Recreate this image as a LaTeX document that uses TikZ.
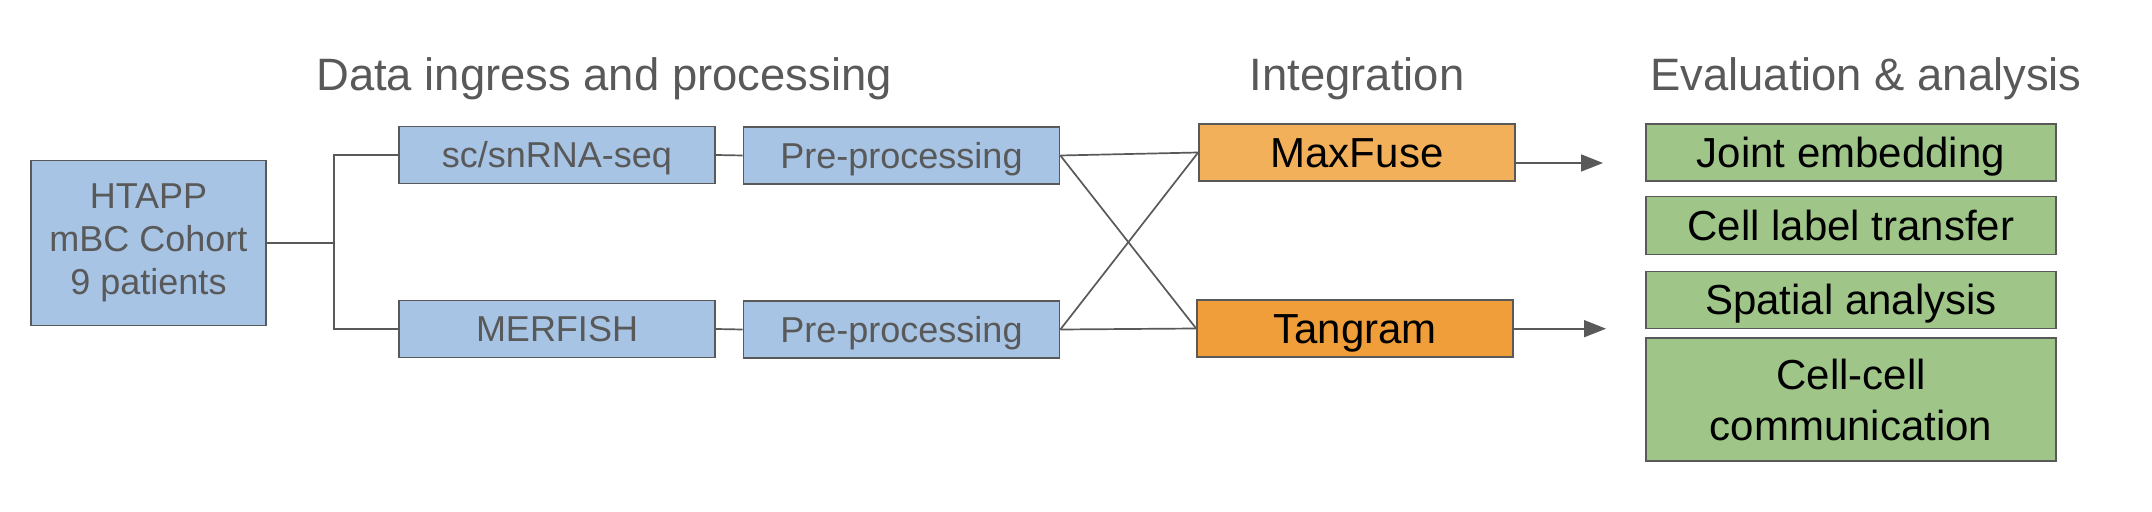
\documentclass[tikz,border=0pt]{standalone}
\usepackage{fontspec}
\setmainfont{Liberation Sans}
\usetikzlibrary{arrows.meta,calc}
\definecolor{ingressblue}{HTML}{A7C4E5}
\definecolor{fuseorange}{HTML}{F2B05B}
\definecolor{tangramorange}{HTML}{F09E3A}
\definecolor{evalgreen}{HTML}{9FC589}
\definecolor{linegray}{HTML}{595959}
\tikzset{>={Triangle[length=11pt,width=8.5pt]}}

\begin{document}
\begin{tikzpicture}[x=0.5pt,y=-0.5pt,
    stagebox/.style={draw=linegray,line width=0.85pt,inner sep=0pt,align=center,
      minimum width=158pt,minimum height=28.5pt},
    ingress/.style={stagebox,fill=ingressblue,text=linegray,font=\fontsize{18}{21.6}\selectfont},
    integ/.style={stagebox,fill=#1,font=\fontsize{21}{25}\selectfont},
    evalbox/.style={stagebox,fill=evalgreen,minimum width=205pt,font=\fontsize{21}{25.5}\selectfont},
    oneline/.style={text height=#1,text depth=0pt},
    heading/.style={anchor=base,text=linegray,font=\fontsize{22.7}{27}\selectfont},
    link/.style={draw=linegray,line width=0.85pt}]
  \useasboundingbox (0,0) rectangle (2152,512);

  % column headings
  \node[heading] (hingress) at (604,91) {Data ingress and processing};
  \node[heading] (hinteg) at (1357,91) {Integration};
  \node[heading] (heval) at (1866,91) {Evaluation \& analysis};

  % data ingress and processing
  \node[ingress,minimum width=117.5pt,minimum height=82.5pt] (htapp) at (148.5,243) {HTAPP\\mBC Cohort\\9 patients};
  \node[ingress,oneline=12.9pt] (scseq) at (557,155) {sc/snRNA-seq};
  \node[ingress,oneline=12.9pt] (merfish) at (557,329) {MERFISH};
  \node[ingress,oneline=12.9pt] (prep1) at (901.5,155.5) {Pre-processing};
  \node[ingress,oneline=12.9pt] (prep2) at (901.5,329.5) {Pre-processing};

  % integration
  \node[integ=fuseorange,oneline=15pt] (maxfuse) at (1357,152.5) {MaxFuse};
  \node[integ=tangramorange,oneline=15pt] (tangram) at (1355,328.5) {Tangram};

  % evaluation & analysis
  \node[evalbox,oneline=15pt] (joint) at (1851,152.5) {Joint embedding};
  \node[evalbox,oneline=15pt,minimum height=29pt] (labeltr) at (1851,225.5) {Cell label transfer};
  \node[evalbox,oneline=15pt] (spatial) at (1851,300) {Spatial analysis};
  \node[evalbox,minimum height=61.5pt] (cellcell) at (1851,399.5) {Cell-cell\\communication};

  \draw[link] (htapp.east) -- ++(67,0) coordinate (fork);
  \draw[link] (scseq.west) -| (fork) |- (merfish.west);
  \draw[link] (scseq.east) -- (prep1.west);
  \draw[link] (merfish.east) -- (prep2.west);
  \draw[link] (prep1.east) -- (maxfuse.west);
  \draw[link] (prep1.east) -- (tangram.west);
  \draw[link] (prep2.east) -- (maxfuse.west);
  \draw[link] (prep2.east) -- (tangram.west);

  \coordinate (jointin) at (1603,163);
  \coordinate (spatialin) at (1606,328.7);
  \draw[link,fill=linegray,->] (maxfuse.east |- jointin) -- (jointin);
  \draw[link,fill=linegray,->] (tangram.east |- spatialin) -- (spatialin);
\end{tikzpicture}
\end{document}
